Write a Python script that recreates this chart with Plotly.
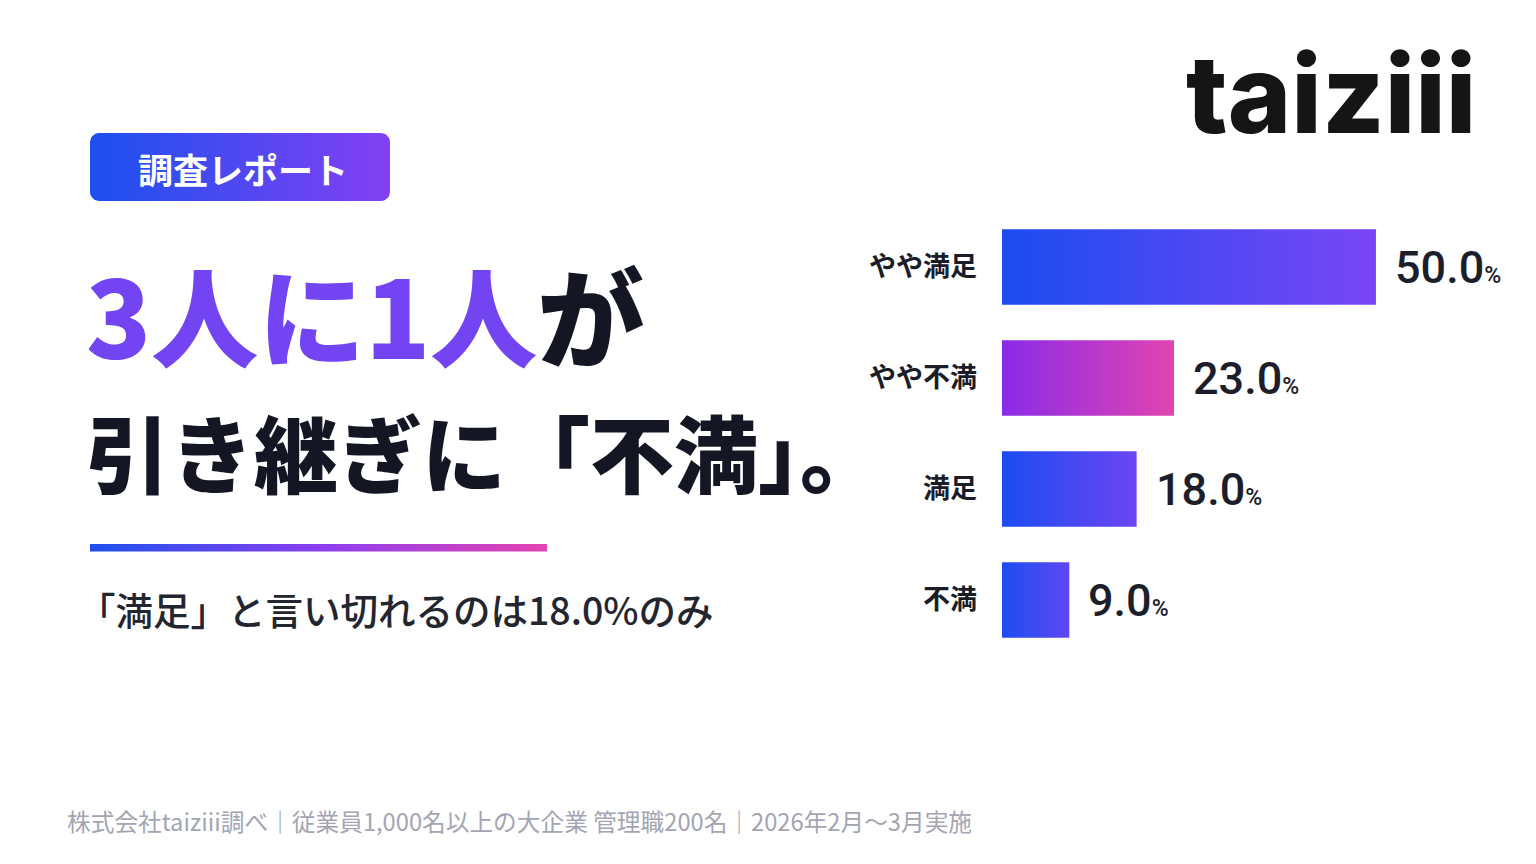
import plotly.graph_objects as go

# ---- data ----
categories = ["やや満足", "やや不満", "満足", "不満"]
values = [50.0, 23.0, 18.0, 9.0]
bar_start_colors = ["#1b4cf0", "#8a2be8", "#1b4cf0", "#1d4df0"]
bar_end_colors = ["#7a45f5", "#e244b0", "#6c45f4", "#5e48f1"]

badge_text = "調査レポート"
headline_accent = "3人に1人"
headline_rest = "が"
headline_line2 = "引き継ぎに「不満」。"
subtitle = "「満足」と言い切れるのは18.0%のみ"
footer = "株式会社taiziii調べ｜従業員1,000名以上の大企業 管理職200名｜2026年2月〜3月実施"
logo = "taiziii"

W, H = 1536, 864
JP = "Noto Sans CJK JP"
DARK = "#141624"
PURPLE = "#7244f2"
BAR_W = 0.68


def rounded_rect(x0, y0, x1, y1, r, n=10):
    import math
    xs, ys = [], []
    corners = [(x1 - r, y0 + r, -90, 0), (x1 - r, y1 - r, 0, 90),
               (x0 + r, y1 - r, 90, 180), (x0 + r, y0 + r, 180, 270)]
    for cx, cy, a0, a1 in corners:
        for k in range(n + 1):
            a = math.radians(a0 + (a1 - a0) * k / n)
            xs.append(cx + r * math.cos(a))
            ys.append(cy + r * math.sin(a))
    xs.append(xs[0])
    ys.append(ys[0])
    return xs, ys


fig = go.Figure()

# bars as gradient-filled rectangles on the data axes
for i, (cat, v) in enumerate(zip(categories, values)):
    fig.add_trace(go.Scatter(
        x=[0, v, v, 0, 0],
        y=[i - BAR_W / 2, i - BAR_W / 2, i + BAR_W / 2, i + BAR_W / 2, i - BAR_W / 2],
        mode="lines", line=dict(width=0), fill="toself",
        fillgradient=dict(type="horizontal",
                          colorscale=[[0, bar_start_colors[i]], [1, bar_end_colors[i]]]),
        name=cat, hoverinfo="skip", showlegend=False,
    ))
    fig.add_annotation(
        x=v, y=i, xref="x", yref="y", xanchor="left", yanchor="middle", xshift=17,
        text=f"{v:.1f}<span style='font-size:23px'>%</span>", showarrow=False,
        font=dict(family="Roboto", size=45, color="#1c1e2b", weight=500),
    )

# decorative pieces on a pixel axis covering the whole page
bx, by = rounded_rect(90, 133, 390, 201, 9)
fig.add_trace(go.Scatter(
    x=bx, y=by, xaxis="x2", yaxis="y2", mode="lines", line=dict(width=0),
    fill="toself", hoverinfo="skip", showlegend=False,
    fillgradient=dict(type="horizontal", colorscale=[[0, "#1b50ef"], [1, "#8340f3"]]),
))
fig.add_trace(go.Scatter(
    x=[90, 547, 547, 90, 90], y=[544, 544, 551.5, 551.5, 544], xaxis="x2", yaxis="y2",
    mode="lines", line=dict(width=0), fill="toself", hoverinfo="skip", showlegend=False,
    fillgradient=dict(type="horizontal",
                      colorscale=[[0, "#1f50ee"], [0.5, "#8a3ef0"], [1, "#e443b0"]]),
))

texts = [
    dict(x=243, y=168, xanchor="center", text=badge_text,
         font=dict(family=JP, size=35, color="white", weight=700)),
    dict(x=84, y=312, xanchor="left",
         text=f"<span style='color:{PURPLE}'>{headline_accent}</span>{headline_rest}",
         font=dict(family=JP, size=107, color=DARK, weight=900)),
    dict(x=84, y=450, xanchor="left", text=headline_line2,
         font=dict(family=JP, size=84, color=DARK, weight=900)),
    dict(x=76, y=608, xanchor="left", text=subtitle,
         font=dict(family=JP, size=37.5, color="#23252f", weight=500)),
    dict(x=65, y=821, xanchor="left", text=footer,
         font=dict(family=JP, size=23.7, color="#a3a5b3", weight=400)),
    dict(x=1478, y=93, xanchor="right", text=logo,
         font=dict(family="Inter", size=108, color="#151515", weight=800)),
]
for t in texts:
    fig.add_annotation(xref="x2", yref="y2", yanchor="middle", showarrow=False, **t)

fig.update_layout(
    width=W, height=H,
    margin=dict(l=0, r=0, t=0, b=0),
    paper_bgcolor="white", plot_bgcolor="rgba(0,0,0,0)",
    xaxis=dict(domain=[1002 / W, 1], range=[0, 71.4], visible=False, fixedrange=True),
    yaxis=dict(domain=[(H - 655.5) / H, (H - 211.5) / H], range=[3.5, -0.5],
               tickvals=list(range(len(categories))), ticktext=categories,
               showgrid=False, zeroline=False, showline=False, ticks="",
               ticklabelstandoff=24,
               tickfont=dict(family=JP, size=27, color="#1a1c28", weight=700)),
    xaxis2=dict(domain=[0, 1], range=[0, W], visible=False, anchor="y2", fixedrange=True),
    yaxis2=dict(domain=[0, 1], range=[H, 0], visible=False, anchor="x2", fixedrange=True),
)

fig.write_html("out.html", config={"displayModeBar": False},
               post_script="document.body.style.margin='0';")
